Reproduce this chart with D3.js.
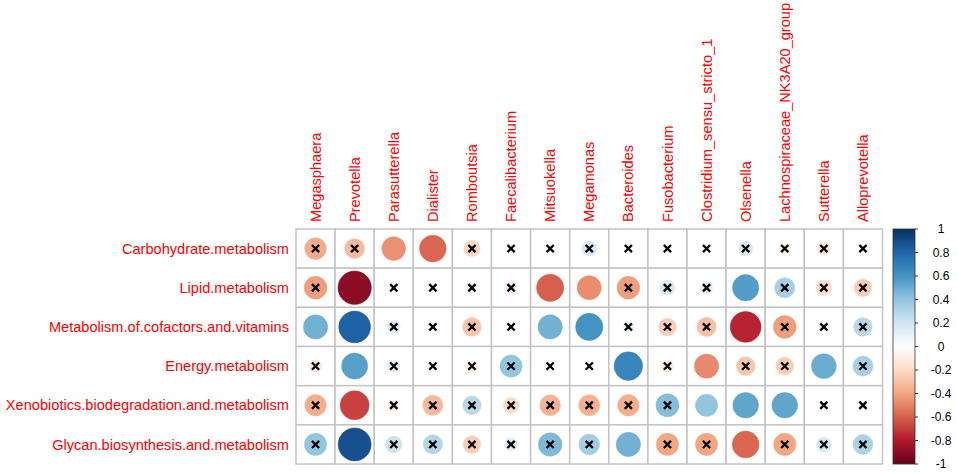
<!DOCTYPE html>
<meta charset="utf-8">
<script src="https://d3js.org/d3.v7.min.js"></script>
<body style="margin:0;background:#fff">
<svg id="corr" width="957" height="474"></svg>
<script>
    // taxa (columns) and KEGG pathways (rows)
    const genera = ["Megasphaera", "Prevotella", "Parasutterella", "Dialister", "Romboutsia",
        "Faecalibacterium", "Mitsuokella", "Megamonas", "Bacteroides", "Fusobacterium",
        "Clostridium_sensu_stricto_1", "Olsenella", "Lachnospiraceae_NK3A20_group", "Sutterella", "Alloprevotella"];
    const pathways = ["Carbohydrate.metabolism", "Lipid.metabolism", "Metabolism.of.cofactors.and.vitamins",
        "Energy.metabolism", "Xenobiotics.biodegradation.and.metabolism", "Glycan.biosynthesis.and.metabolism"];

    // correlation coefficients, one row per pathway
    const carbohydrate = [-0.38, -0.32, -0.46, -0.58, -0.22, -0.02, 0.02, 0.18, 0.02, 0.01, 0.01, 0.17, -0.09, -0.14, -0.02];
    const lipid        = [-0.42, -0.90, 0.01, 0.01, 0.08, -0.11, -0.60, -0.47, -0.42, 0.18, 0.13, 0.56, 0.33, -0.20, -0.25];
    const cofactors    = [0.48, 0.82, 0.14, 0.01, -0.28, 0.01, 0.48, 0.60, 0.10, -0.25, -0.30, -0.77, -0.42, 0.03, 0.28];
    const energy       = [-0.13, 0.55, 0.12, 0.01, -0.11, 0.40, 0.01, 0.01, 0.66, -0.12, -0.48, -0.28, -0.25, 0.50, 0.33];
    const xenobiotics  = [-0.37, -0.68, -0.09, -0.33, 0.28, -0.20, -0.35, -0.36, -0.37, 0.43, 0.40, 0.53, 0.53, 0.01, -0.05];
    const glycan       = [0.40, 0.88, 0.22, 0.30, -0.25, 0.14, 0.45, 0.35, 0.48, -0.40, -0.40, -0.58, -0.40, 0.18, 0.32];
    const corr = [carbohydrate, lipid, cofactors, energy, xenobiotics, glycan];

    // 1 = not significant (drawn with a cross)
    const insig = [
        [1,1,0,0,1,1,1,1,1,1,1,1,1,1,1],
        [1,0,1,1,1,1,0,0,1,1,1,0,1,1,1],
        [0,0,1,1,1,1,0,0,1,1,1,0,1,1,1],
        [1,0,1,1,1,1,1,1,0,1,0,1,1,0,1],
        [1,0,1,1,1,1,1,1,1,1,0,0,0,1,1],
        [1,0,1,1,1,1,1,1,0,1,1,0,1,1,1]
    ];

    const legendTicks = [-1, -0.8, -0.6, -0.4, -0.2, 0, 0.2, 0.4, 0.6, 0.8, 1];

    const svg = d3.select("#corr");
    const gridLeft = 296, gridTop = 229, cw = 39.1, ch = 39.17;
    const labelFont = "14.6px 'Liberation Sans', Arial, sans-serif";

    const x = d3.scaleBand().domain(genera).range([gridLeft, gridLeft + cw * genera.length]);
    const y = d3.scaleBand().domain(pathways).range([gridTop, gridTop + ch * pathways.length]);

    // RdBu palette as used by corrplot
    const color = d3.scaleLinear()
        .domain(d3.range(11).map(i => -1 + i * 0.2))
        .range(["#67001F", "#B2182B", "#D6604D", "#F4A582", "#FDDBC7", "#FFFFFF",
                "#D1E5F0", "#92C5DE", "#4393C3", "#2166AC", "#053061"]);

    const cells = [];
    corr.forEach((row, i) => row.forEach((v, j) => cells.push({r: pathways[i], c: genera[j], v: v, ns: insig[i][j]})));

    // grid
    svg.append("g").selectAll("rect")
        .data(cells)
        .join("rect")
            .attr("x", d => x(d.c))
            .attr("y", d => y(d.r))
            .attr("width", x.bandwidth())
            .attr("height", y.bandwidth())
            .attr("fill", "white")
            .attr("stroke", "#c4c4c4")
            .attr("stroke-width", 1.5);

    // circles: radius ~ sqrt(|r|)
    svg.append("g").selectAll("circle")
        .data(cells)
        .join("circle")
            .attr("cx", d => x(d.c) + x.bandwidth() / 2)
            .attr("cy", d => y(d.r) + y.bandwidth() / 2)
            .attr("r", d => 0.45 * Math.sqrt(Math.abs(d.v)) * cw)
            .attr("fill", d => color(d.v))
            .attr("stroke", d => color(d.v))
            .attr("stroke-width", 0.5);

    // crosses for non-significant cells
    const s = 3.6;
    svg.append("g").selectAll("path")
        .data(cells.filter(d => d.ns))
        .join("path")
            .attr("transform", d => `translate(${x(d.c) + x.bandwidth() / 2},${y(d.r) + y.bandwidth() / 2})`)
            .attr("d", `M${-s},${-s}L${s},${s}M${-s},${s}L${s},${-s}`)
            .attr("stroke", "black")
            .attr("stroke-width", 2.3)
            .attr("fill", "none");

    // labels
    svg.append("g").selectAll("text")
        .data(pathways)
        .join("text")
            .attr("x", gridLeft - 7)
            .attr("y", d => y(d) + y.bandwidth() / 2)
            .attr("dy", "0.35em")
            .attr("text-anchor", "end")
            .attr("fill", "red")
            .style("font", labelFont)
            .text(d => d);

    svg.append("g").selectAll("text")
        .data(genera)
        .join("text")
            .attr("transform", d => `translate(${x(d) + x.bandwidth() / 2},${gridTop - 7}) rotate(-90)`)
            .attr("dy", "0.35em")
            .attr("text-anchor", "start")
            .attr("fill", "red")
            .style("font", labelFont)
            .text(d => d);

    // colour legend
    const lx = 893, lw = 22;
    const ly = d3.scaleLinear().domain([1, -1]).range([gridTop, gridTop + ch * pathways.length]);
    const grad = svg.append("defs").append("linearGradient")
        .attr("id", "rdbu").attr("x1", 0).attr("x2", 0).attr("y1", 0).attr("y2", 1);
    grad.selectAll("stop")
        .data(d3.range(21).map(i => 1 - i * 0.1))
        .join("stop")
            .attr("offset", (d, i) => i / 20)
            .attr("stop-color", d => color(d));
    svg.append("rect")
        .attr("x", lx).attr("y", ly(1))
        .attr("width", lw).attr("height", ly(-1) - ly(1))
        .attr("fill", "url(#rdbu)")
        .attr("stroke", "#333").attr("stroke-width", 0.8);

    const lg = svg.append("g");
    lg.selectAll("line")
        .data(legendTicks)
        .join("line")
            .attr("x1", lx + lw).attr("x2", lx + lw + 3)
            .attr("y1", d => ly(d)).attr("y2", d => ly(d))
            .attr("stroke", "#333");
    lg.selectAll("text")
        .data(legendTicks)
        .join("text")
            .attr("x", 941)
            .attr("y", d => ly(d))
            .attr("dy", "0.35em")
            .attr("text-anchor", "middle")
            .style("font", "12px 'Liberation Sans', Arial, sans-serif")
            .text(d => d);
</script>
</body>
